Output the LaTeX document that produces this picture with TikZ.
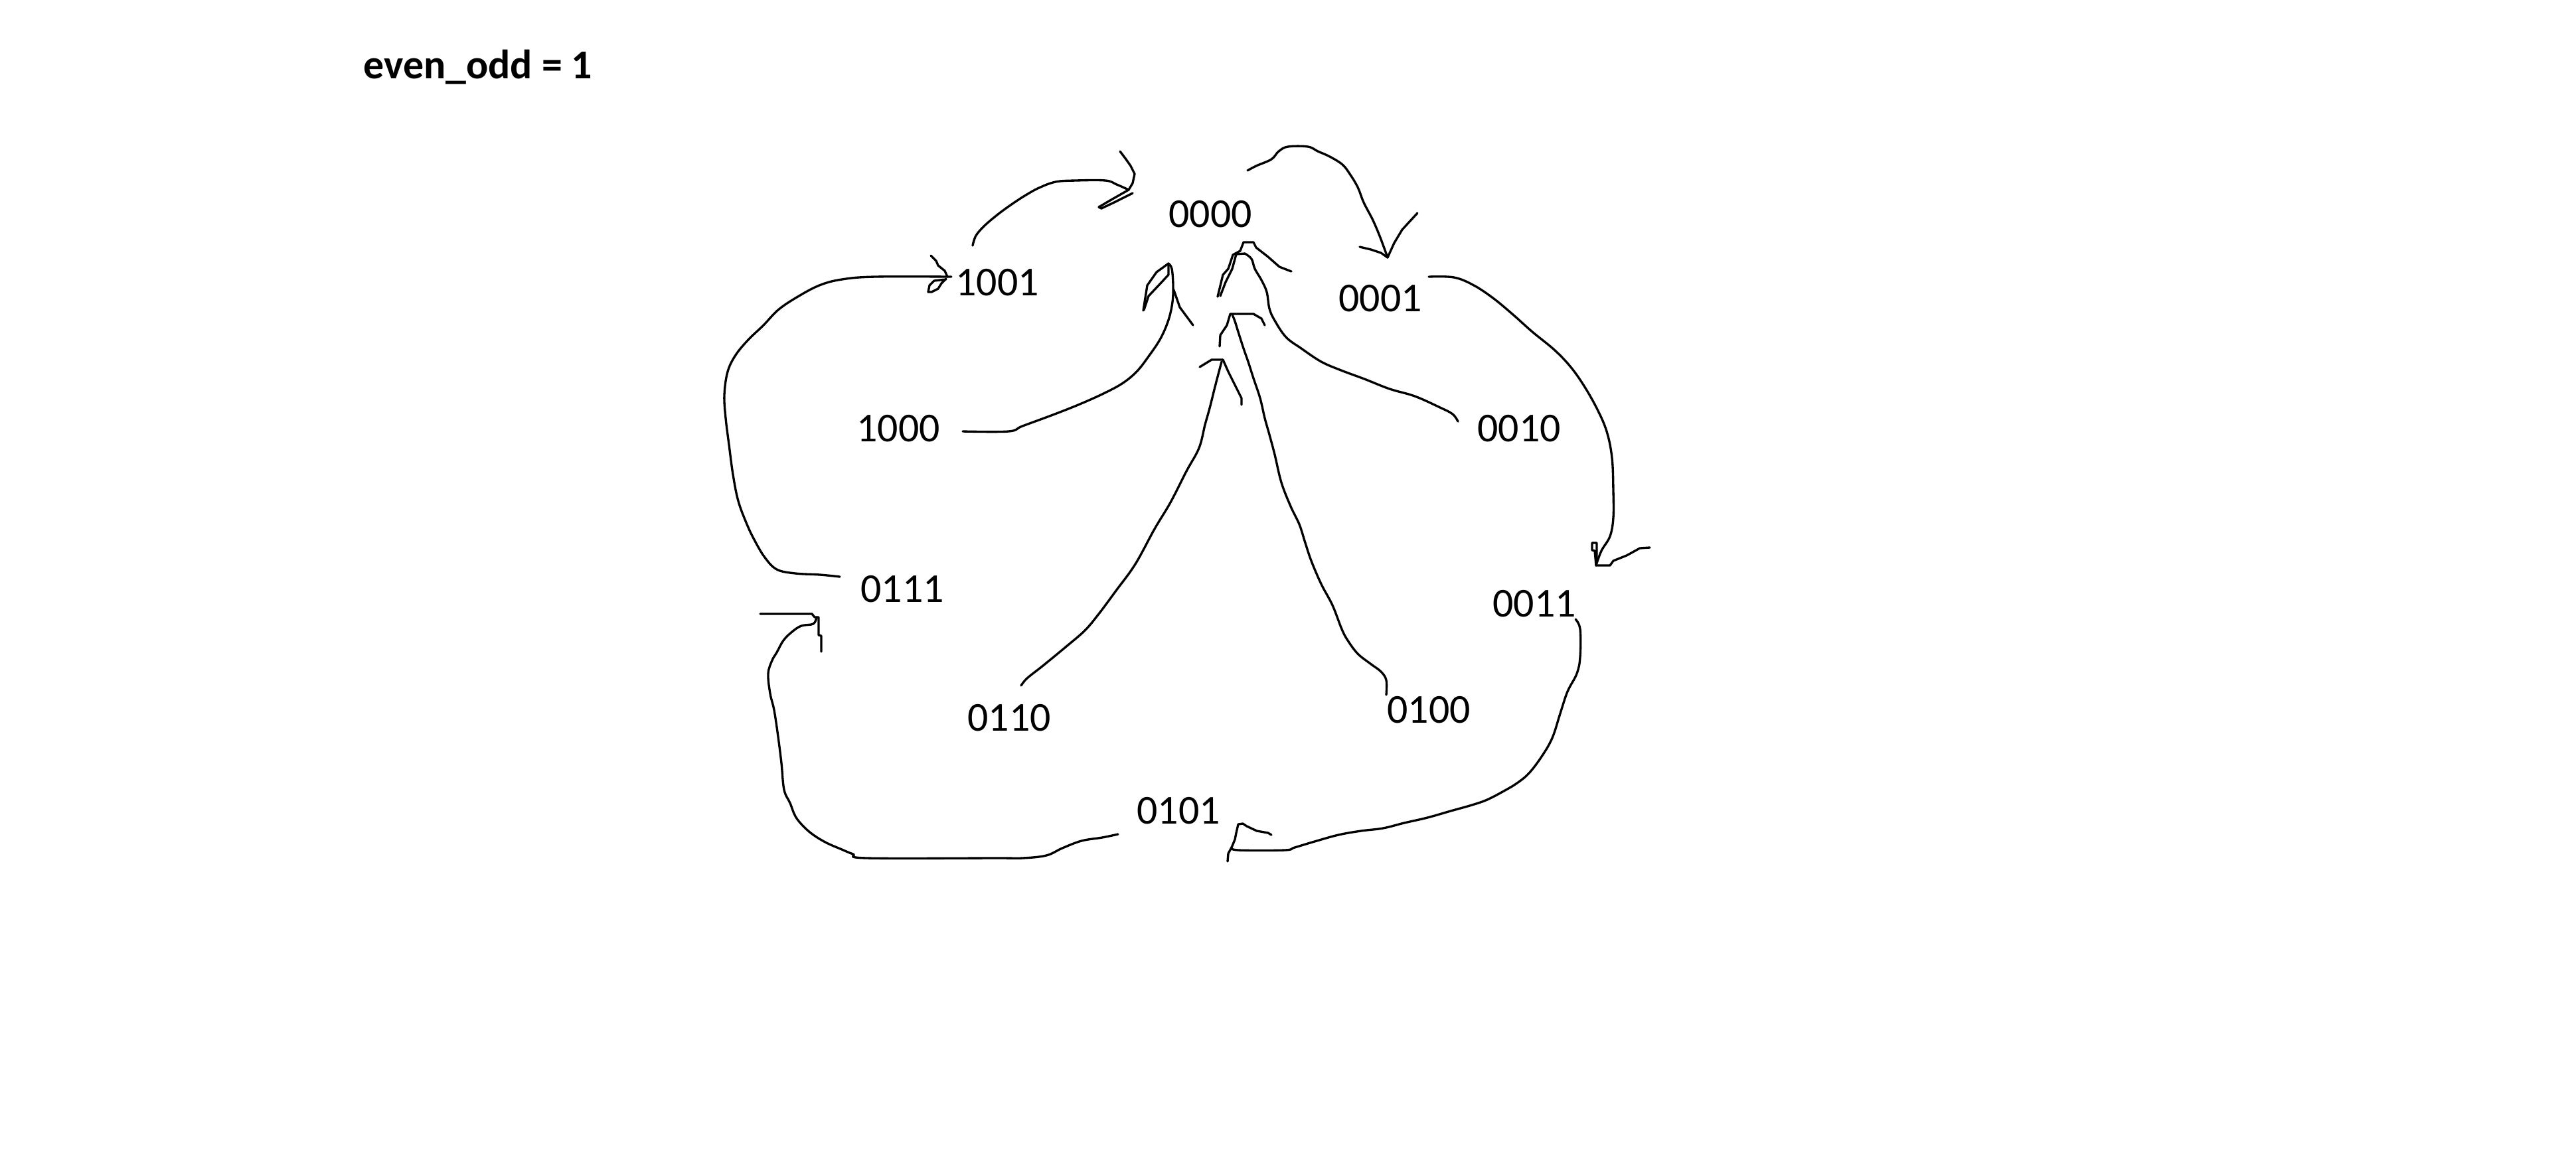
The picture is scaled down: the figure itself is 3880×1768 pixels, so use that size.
\documentclass[tikz,border=0pt]{standalone}
\usepackage{fontspec}
\setmainfont{Carlito}
\begin{document}
\begin{tikzpicture}[x=0.01cm, y=-0.01cm,
  state/.style={anchor=base, inner sep=0pt, font=\fontsize{17.6pt}{20pt}\selectfont},
  title/.style={anchor=base west, inner sep=0pt, font=\fontsize{17.6pt}{20pt}\selectfont\bfseries},
  wire/.style={line width=0.95pt, line cap=round, line join=round},
  barb/.style={line width=0.95pt, line cap=round, line join=round}]
\path[use as bounding box, fill=white] (0,0) rectangle (3880,1768);

% heading
\node[title] (hdr) at (547,118) {even\_odd = 1};

% states
\node[state] (s0000) at (1823,342) {0000};
\node[state] (s1001) at (1502,445) {1001};
\node[state] (s0001) at (2079,469) {0001};
\node[state] (s1000) at (1353,665) {1000};
\node[state] (s0010) at (2288,665) {0010};
\node[state] (s0111) at (1359,907) {0111};
\node[state] (s0011) at (2311,929) {0011};
\node[state] (s0110) at (1520,1101) {0110};
\node[state] (s0100) at (2152,1089) {0100};
\node[state] (s0101) at (1775,1241) {0101};

% free ends of the hand-drawn connectors
\coordinate (a0) at (1465,370);  \coordinate (a1) at (1700,286);
\coordinate (b0) at (1879,257);  \coordinate (b1) at (2090,388);
\coordinate (c0) at (2152,417);  \coordinate (c1) at (2404,852);
\coordinate (d0) at (2373,933);  \coordinate (d1) at (1855,1277);
\coordinate (e0) at (1684,1257); \coordinate (e1) at (1230,930);
\coordinate (f0) at (1265,869);  \coordinate (f1) at (1433,417);
\coordinate (g0) at (1450,650);  \coordinate (g1) at (1760,397);
\coordinate (h0) at (2196,635);  \coordinate (h1) at (1875,382);
\coordinate (i0) at (1538,1033); \coordinate (i1) at (1840,545);
\coordinate (j0) at (2088,1047); \coordinate (j1) at (1856,474);

% 1001 -> 0000
\draw[wire] plot[smooth, tension=0.6] coordinates {(a0) (1470,355) (1483,340) (1503,323) (1525,307) (1545,294) (1565,283) (1590,274) (1620,272) (1665,272) (1682,278) (a1)};
\draw[barb] (a1) -- (1706,276) -- (1709,262) -- (1703,250) -- (1696,240) -- (1687,228);
\draw[barb] (a1) -- (1672,302) -- (1655,312) -- (1659,314) -- (1676,306) -- (1706,291);

% 0000 -> 0001
\draw[wire] plot[smooth, tension=0.6] coordinates {(b0) (1892,250) (1915,240) (1926,228) (1940,221) (1970,221) (1985,228) (2003,236) (2022,248) (2033,262) (2045,282) (2054,305) (2068,332) (2079,358) (b1)};
\draw[barb] (b1) -- (2080,381) -- (2065,376) -- (2048,372);
\draw[barb] (b1) -- (2100,366) -- (2112,346) -- (2123,334) -- (2135,321);

% 0001 -> 0011
\draw[wire] plot[smooth, tension=0.6] coordinates {(c0) (2190,418) (2220,430) (2250,450) (2280,475) (2308,500) (2341,527) (2365,552) (2385,580) (2405,615) (2420,650) (2428,690) (2430,740) (2430,780) (2425,808) (2412,830) (c1)};
\draw[barb] (c1) -- (2402,830) -- (2398,829) -- (2398,818) -- (2405,818) -- (2405,848);
\draw[barb] (c1) -- (2425,852) -- (2430,845) -- (2450,837) -- (2470,826) -- (2485,825);

% 0011 -> 0101
\draw[wire] plot[smooth, tension=0.6] coordinates {(d0) (2380,948) (2380,990) (2375,1015) (2361,1042) (2350,1075) (2338,1112) (2322,1140) (2303,1165) (2285,1180) (2265,1192) (2240,1205) (2217,1213) (2185,1222) (2150,1232) (2115,1240) (2083,1248) (2050,1252) (2016,1258) (1980,1268) (1950,1277) (1935,1281) (1865,1281) (d1)};
\draw[barb] (d1) -- (1850,1286) -- (1849,1298);
\draw[barb] (d1) -- (1860,1265) -- (1862,1255) -- (1865,1242) -- (1872,1241) -- (1878,1245) -- (1893,1252) -- (1910,1255) -- (1915,1258);

% 0101 -> 0111
\draw[wire] plot[smooth, tension=0.6] coordinates {(e0) (1660,1262) (1629,1267) (1600,1278) (1576,1289) (1540,1293) (1500,1293) (1306,1293) (1285,1287) (1268,1280) (1245,1270) (1225,1258) (1210,1245) (1198,1230) (1190,1210) (1181,1190) (1177,1150) (1172,1110) (1166,1070) (1160,1045) (1157,1015) (1163,995) (1170,983) (1180,965) (1193,952) (1207,943) (1225,940) (e1)};
\draw[barb] (1145,925) -- (1223,925) -- (1227,930) -- (1233,930) -- (1233,957) -- (1237,958) -- (1237,982);

% 0111 -> 1001
\draw[wire] plot[smooth, tension=0.6] coordinates {(f0) (1235,866) (1198,864) (1170,858) (1152,840) (1137,815) (1125,790) (1112,755) (1104,715) (1098,670) (1093,630) (1091,595) (1096,560) (1108,535) (1127,512) (1150,490) (1172,467) (1200,448) (1234,430) (1268,421) (1318,417) (f1)};
\draw[barb] (1427,417) -- (1423,408) -- (1413,400) -- (1410,393) -- (1402,385);
\draw[barb] (1425,420) -- (1418,427) -- (1413,435) -- (1403,440) -- (1398,440) -- (1400,430) -- (1407,423) -- (1425,421);

% 1000 -> 0000
\draw[wire] plot[smooth, tension=0.6] coordinates {(g0) (1519,650) (1540,642) (1586,625) (1624,610) (1660,594) (1690,578) (1712,560) (1730,537) (1748,510) (1760,482) (1766,455) (1767,430) (1765,405) (g1)};
\draw[barb] (g1) -- (1742,410) -- (1728,430) -- (1722,468);
\draw[barb] (g1) -- (1760,414) -- (1747,428) -- (1730,446) -- (1723,467);
\draw[barb] (1768,437) -- (1777,463) -- (1797,490);

% 0010 -> 0000
\draw[wire] plot[smooth, tension=0.6] coordinates {(h0) (2188,624) (2169,614) (2131,597) (2093,586) (2055,571) (2020,558) (1990,545) (1960,525) (1937,508) (1920,483) (1912,465) (1908,440) (1900,422) (1890,405) (1885,390) (h1)};
\draw[barb] (h1) -- (1862,383) -- (1856,405) -- (1846,425) -- (1838,446);
\draw[barb] (1834,447) -- (1842,414) -- (1850,405) -- (1857,384) -- (1868,378) -- (1873,365) -- (1888,365) -- (1892,373) -- (1910,387) -- (1927,402) -- (1945,409);

% 0110 -> 0000
\draw[wire] plot[smooth, tension=0.6] coordinates {(i0) (1547,1022) (1571,1003) (1605,975) (1634,950) (1655,925) (1681,890) (1710,850) (1739,797) (1763,757) (1787,710) (1806,675) (1815,640) (1822,615) (1830,583) (1836,560) (i1)};
\draw[barb] (1842,542) -- (1825,542) -- (1807,553);
\draw[barb] (1842,542) -- (1850,560) -- (1860,580) -- (1870,600) -- (1870,610);

% 0100 -> 0000
\draw[wire] plot[smooth, tension=0.6] coordinates {(j0) (2088,1025) (2080,1012) (2064,1000) (2045,985) (2030,965) (2021,948) (2007,912) (1990,880) (1975,845) (1966,818) (1957,790) (1944,763) (1930,727) (1920,685) (1912,655) (1905,630) (1898,600) (1888,570) (1880,545) (1873,525) (1865,500) (1860,484) (j1)};
\draw[barb] (1905,490) -- (1900,480) -- (1888,473) -- (1853,473) -- (1848,490) -- (1838,505) -- (1837,522);
\end{tikzpicture}
\end{document}
